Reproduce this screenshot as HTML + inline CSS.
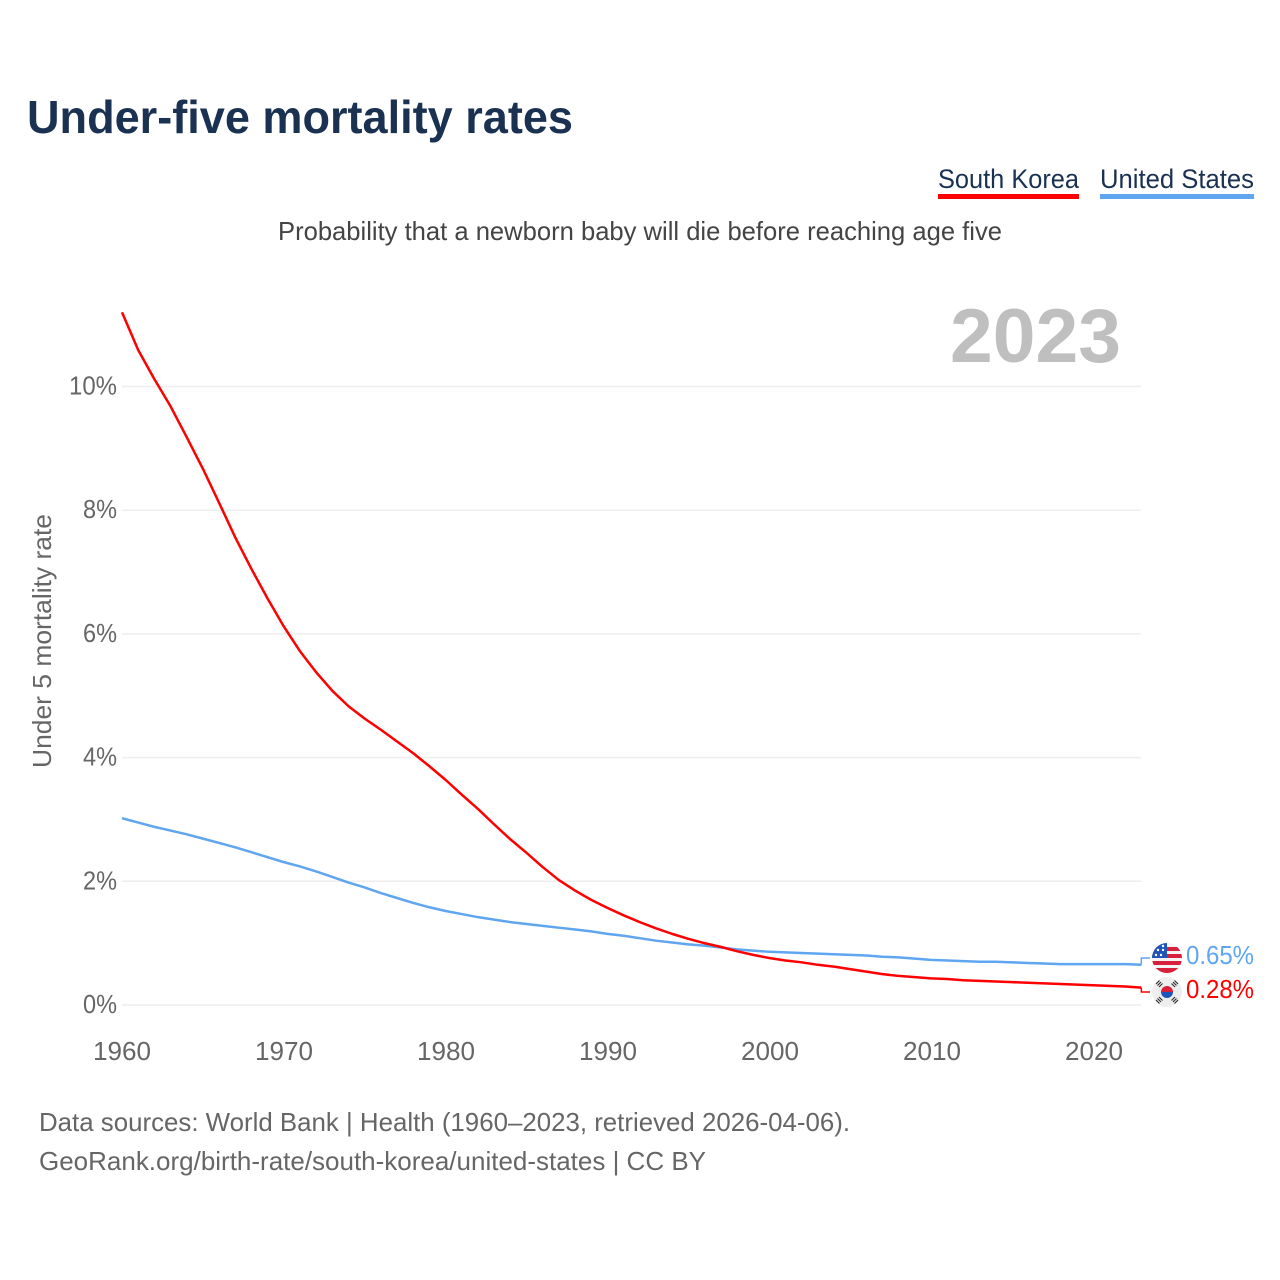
<!DOCTYPE html>
<html lang="en">
<head>
<meta charset="utf-8">
<title>Under-five mortality rates</title>
<style>
html,body{margin:0;padding:0;background:#fff;width:1280px;height:1280px;overflow:hidden}
svg{display:block;font-family:"Liberation Sans",sans-serif}
</style>
</head>
<body>
<svg id="chart" width="1280" height="1280" viewBox="0 0 1280 1280">
  <defs>
    <clipPath id="us-clip"><circle cx="1167" cy="958" r="15"/></clipPath>
    <clipPath id="kr-clip"><circle cx="1167" cy="992" r="15"/></clipPath>
  </defs>
  <text x="27" y="133" font-size="46" font-weight="700" fill="#1a3152" textLength="546" lengthAdjust="spacingAndGlyphs">Under-five mortality rates</text>

  <g>
    <text x="938" y="188" font-size="27" fill="#1a3152" textLength="141" lengthAdjust="spacingAndGlyphs">South Korea</text>
    <rect x="938" y="194" width="141" height="5" fill="#ff0000"/>
  </g>
  <g>
    <text x="1100" y="188" font-size="27" fill="#1a3152" textLength="154" lengthAdjust="spacingAndGlyphs">United States</text>
    <rect x="1100" y="194" width="154" height="5" fill="#5fa5f0"/>
  </g>

  <text x="278" y="240" font-size="26" fill="#444" textLength="724" lengthAdjust="spacingAndGlyphs">Probability that a newborn baby will die before reaching age five</text>

  <text x="950" y="362" font-size="76" font-weight="700" fill="#bfbfbf" textLength="171" lengthAdjust="spacingAndGlyphs">2023</text>

  <g id="grid"></g>
  <g id="y-ticks"></g>
  <g id="x-ticks"></g>

  <text transform="translate(51,768) rotate(-90)" font-size="26" fill="#666" textLength="254" lengthAdjust="spacingAndGlyphs">Under 5 mortality rate</text>

  <g id="series"></g>

  <g>
    <g clip-path="url(#us-clip)">
      <rect x="1152" y="943" width="30" height="30" fill="#f4f4f4"/>
      <rect x="1152" y="947" width="30" height="4" fill="#d8203a"/>
      <rect x="1152" y="954" width="30" height="4" fill="#d8203a"/>
      <rect x="1152" y="961" width="30" height="4" fill="#d8203a"/>
      <rect x="1152" y="968" width="30" height="5" fill="#d8203a"/>
      <rect x="1152" y="943" width="15" height="15" fill="#1f55b8"/>
      <circle cx="1158" cy="950" r="1.200" fill="#fff"/><circle cx="1163" cy="950" r="1.200" fill="#fff"/>
      <circle cx="1156" cy="955" r="1.200" fill="#fff"/><circle cx="1161" cy="955" r="1.200" fill="#fff"/>
      <circle cx="1163" cy="946" r="1.200" fill="#fff"/>
    </g>
  </g>
  <g>
    <g clip-path="url(#kr-clip)">
      <rect x="1152" y="977" width="30" height="30" fill="#eeeeee"/>
      <path d="M1161 992a6 6 0 0 1 12 0z" fill="#d8203a"/>
      <path d="M1161 992a6 6 0 0 0 12 0z" fill="#1f55b8"/>
      <g stroke="#333" stroke-width="1.200">
        <path d="M1156 984l3.500-3.500M1157.500 985.500l3.500-3.500M1159 987l3.500-3.500"/>
        <path d="M1171.500 983.500l3.500 3.500M1173 982l3.500 3.500M1174.500 980.500l3.500 3.500"/>
        <path d="M1156 1000l3.500 3.500M1157.500 998.500l3.500 3.500M1159 997l3.500 3.500"/>
        <path d="M1171.500 1000.500l3.500-3.500M1173 1002l3.500-3.500M1174.500 1003.500l3.500-3.500"/>
      </g>
    </g>
  </g>

  <text x="39" y="1131" font-size="26" fill="#666" textLength="811" lengthAdjust="spacingAndGlyphs">Data sources: World Bank | Health (1960–2023, retrieved 2026-04-06).</text>
  <text x="39" y="1170" font-size="26" fill="#666" textLength="667" lengthAdjust="spacingAndGlyphs">GeoRank.org/birth-rate/south-korea/united-states | CC BY</text>
</svg>

<script>
const years = [1960,1961,1962,1963,1964,1965,1966,1967,1968,1969,1970,1971,1972,1973,1974,1975,1976,1977,1978,1979,1980,1981,1982,1983,1984,1985,1986,1987,1988,1989,1990,1991,1992,1993,1994,1995,1996,1997,1998,1999,2000,2001,2002,2003,2004,2005,2006,2007,2008,2009,2010,2011,2012,2013,2014,2015,2016,2017,2018,2019,2020,2021,2022,2023];
const southKorea = [11.20,10.59,10.12,9.68,9.18,8.67,8.12,7.56,7.05,6.57,6.12,5.72,5.38,5.08,4.83,4.63,4.45,4.26,4.07,3.86,3.64,3.40,3.17,2.92,2.68,2.46,2.23,2.02,1.85,1.70,1.57,1.45,1.34,1.24,1.15,1.07,1.00,0.94,0.87,0.81,0.76,0.72,0.69,0.65,0.62,0.58,0.54,0.50,0.47,0.45,0.43,0.42,0.40,0.39,0.38,0.37,0.36,0.35,0.34,0.33,0.32,0.31,0.30,0.28];
const unitedStates = [3.02,2.95,2.88,2.82,2.76,2.69,2.62,2.55,2.47,2.39,2.31,2.24,2.16,2.07,1.98,1.90,1.81,1.73,1.65,1.58,1.52,1.47,1.42,1.38,1.34,1.31,1.28,1.25,1.22,1.19,1.15,1.12,1.08,1.04,1.01,0.98,0.96,0.93,0.90,0.88,0.86,0.85,0.84,0.83,0.82,0.81,0.80,0.78,0.77,0.75,0.73,0.72,0.71,0.70,0.70,0.69,0.68,0.67,0.66,0.66,0.66,0.66,0.66,0.65];
const yTickValues = [0,2,4,6,8,10];
const yTickLabels = ["0%","2%","4%","6%","8%","10%"];
const yTickWidths = [34,34,34,34,34,48];
const xTickValues = [1960,1970,1980,1990,2000,2010,2020];
const xTickLabels = ["1960","1970","1980","1990","2000","2010","2020"];
const endLabelSK = "0.28%";
const endLabelUS = "0.65%";

const NS = "http://www.w3.org/2000/svg";
const xScale = y => 122 + (y - 1960) * 16.18;
const yScale = v => 1005 - v * 61.85;
const grid = document.getElementById("grid");
const yTicks = document.getElementById("y-ticks");
const xTicks = document.getElementById("x-ticks");
const series = document.getElementById("series");
const root = document.getElementById("chart");

yTickValues.forEach((v, i) => {
  const ln = document.createElementNS(NS, "line");
  ln.setAttribute("x1", 122);
  ln.setAttribute("x2", 1141);
  ln.setAttribute("y1", yScale(v));
  ln.setAttribute("y2", yScale(v));
  ln.setAttribute("stroke", "#eeeeee");
  ln.setAttribute("stroke-width", "1.5");
  
  
  grid.appendChild(ln);

  const t = document.createElementNS(NS, "text");
  t.setAttribute("x", 117 - yTickWidths[i]);
  t.setAttribute("y", yScale(v) + 8);
  t.setAttribute("font-size", "26");
  t.setAttribute("fill", "#666");
  t.setAttribute("textLength", yTickWidths[i]);
  t.setAttribute("lengthAdjust", "spacingAndGlyphs");
  
  
  t.textContent = yTickLabels[i];
  yTicks.appendChild(t);
});

xTickValues.forEach((v, i) => {
  const t = document.createElementNS(NS, "text");
  t.setAttribute("x", xScale(v) - 29 + (v - 1960) * 0.02);
  t.setAttribute("y", 1060);
  t.setAttribute("font-size", "26");
  t.setAttribute("fill", "#666");
  t.setAttribute("textLength", "58");
  t.setAttribute("lengthAdjust", "spacingAndGlyphs");
  
  
  t.textContent = xTickLabels[i];
  xTicks.appendChild(t);
});

function linePath(values) {
  return values.map((v, i) => (i ? "L" : "M") + xScale(years[i]).toFixed(2) + " " + yScale(v).toFixed(2)).join("");
}

const lineUS = document.createElementNS(NS, "path");
lineUS.setAttribute("d", linePath(unitedStates));
lineUS.setAttribute("fill", "none");
lineUS.setAttribute("stroke", "#5fa5f0");
lineUS.setAttribute("stroke-width", "2.5");
lineUS.setAttribute("stroke-linejoin", "round");


series.appendChild(lineUS);

const lineSK = document.createElementNS(NS, "path");
lineSK.setAttribute("d", linePath(southKorea));
lineSK.setAttribute("fill", "none");
lineSK.setAttribute("stroke", "#ff0000");
lineSK.setAttribute("stroke-width", "2.5");
lineSK.setAttribute("stroke-linejoin", "round");


series.appendChild(lineSK);

const lastX = xScale(years[years.length - 1]);

const connUS = document.createElementNS(NS, "path");
connUS.setAttribute("d", "M" + lastX + " " + yScale(unitedStates[unitedStates.length - 1]) + "V958H1150");
connUS.setAttribute("fill", "none");
connUS.setAttribute("stroke", "#5fa5f0");
connUS.setAttribute("stroke-width", "1.5");


series.appendChild(connUS);

const connSK = document.createElementNS(NS, "path");
connSK.setAttribute("d", "M" + lastX + " " + yScale(southKorea[southKorea.length - 1]) + "V992H1150");
connSK.setAttribute("fill", "none");
connSK.setAttribute("stroke", "#ff0000");
connSK.setAttribute("stroke-width", "1.5");


series.appendChild(connSK);

const labelUS = document.createElementNS(NS, "text");
labelUS.setAttribute("x", 1186);
labelUS.setAttribute("y", 964);
labelUS.setAttribute("font-size", "26");
labelUS.setAttribute("fill", "#5fa5f0");
labelUS.setAttribute("textLength", "68");
labelUS.setAttribute("lengthAdjust", "spacingAndGlyphs");


labelUS.textContent = endLabelUS;
root.appendChild(labelUS);

const labelSK = document.createElementNS(NS, "text");
labelSK.setAttribute("x", 1186);
labelSK.setAttribute("y", 998);
labelSK.setAttribute("font-size", "26");
labelSK.setAttribute("fill", "#ff0000");
labelSK.setAttribute("textLength", "68");
labelSK.setAttribute("lengthAdjust", "spacingAndGlyphs");


labelSK.textContent = endLabelSK;
root.appendChild(labelSK);
</script>
</body>
</html>
